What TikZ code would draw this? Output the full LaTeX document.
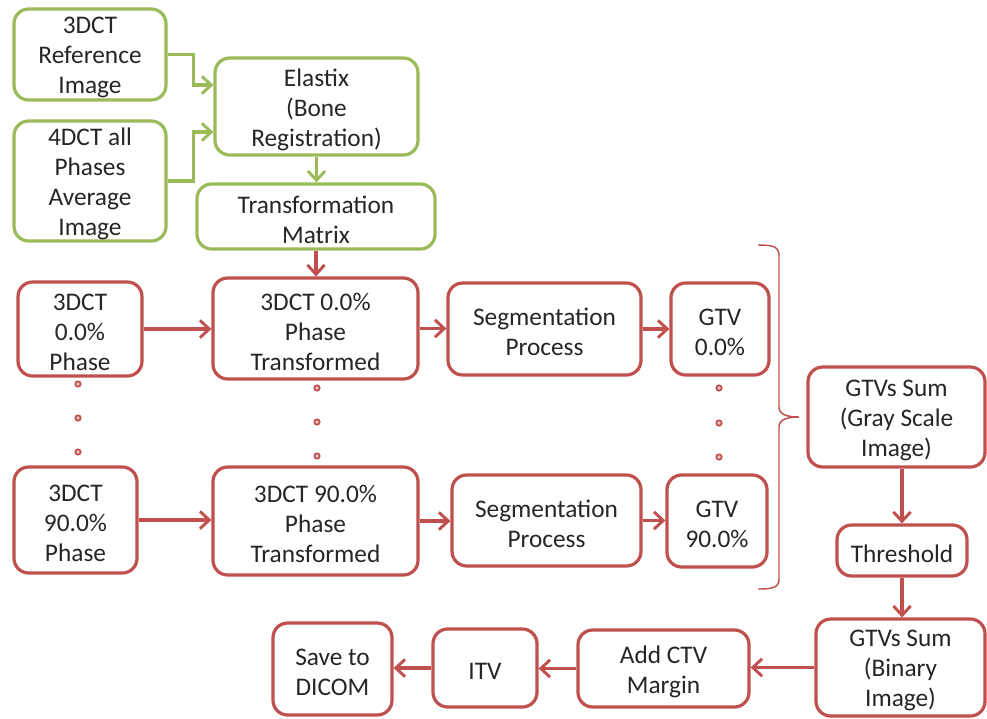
\documentclass[tikz,border=0pt]{standalone}
\usepackage{fontspec}
\setmainfont{Carlito}
\usetikzlibrary{arrows.meta,calc}
\definecolor{grn}{HTML}{9BBB59}
\definecolor{rd}{HTML}{C0504D}
\definecolor{ink}{HTML}{262626}
% box from its corner coordinates (in px): style, name, x1, y1, x2, y2, text
% the frame carries the name; its text sits a little below the centre
\newcommand\pbox[7]{%
  \pgfmathsetmacro\bw{(#5-#3)*0.75}%
  \pgfmathsetmacro\bh{(#6-#4)*0.75}%
  \node[#1, minimum width=\bw pt, minimum height=\bh pt] (#2) at ({(#3+#5)/2},{(#4+#6)/2}) {};
  \node[boxtext] (#2-text) at ({(#3+#5)/2},{(#4+#6)/2+3}) {#7};}
\tikzset{
  basebox/.style={rectangle, rounded corners=11pt, line width=2.4pt, fill=white, inner sep=0pt},
  boxtext/.style={align=center, inner sep=0pt, text=ink,
    font=\fontsize{19pt}{22.5pt}\selectfont},
  gbox/.style={basebox, draw=grn},
  rbox/.style={basebox, draw=rd},
  tipb/.tip={Straight Barb[length=7pt, width=13pt, line width=2.2pt]},
  garrow/.style={draw=grn, line width=2.4pt, -tipb},
  rarrow/.style={draw=rd, line width=2.4pt, -tipb},
  phasedot/.style={circle, draw=rd, line width=1.3pt, fill=rd!35!white, inner sep=0pt, minimum size=4pt},
  bracel/.style={draw=rd, line width=1.1pt}
}
\begin{document}
\begin{tikzpicture}[x=0.75pt, y=-0.75pt]
\useasboundingbox (0,0) rectangle (987,718);

% registration stage
\pbox{gbox}{ref3d}{14}{9}{166}{100}{3DCT\\Reference\\Image}
\pbox{gbox}{avg4d}{14}{121}{166}{241}{4DCT all\\Phases\\Average\\Image}
\pbox{gbox}{elastix}{215}{58}{418}{155}{Elastix\\(Bone\\Registration)}
\pbox{gbox}{tmat}{197}{184}{435}{249}{Transformation\\Matrix}

% phase rows
\pbox{rbox}{ph0}{18}{282}{142}{376}{3DCT\\0.0\%\\Phase}
\pbox{rbox}{tr0}{213}{278}{418}{379}{3DCT 0.0\%\\Phase\\Transformed}
\pbox{rbox}{seg0}{448}{283}{641}{375}{Segmentation\\Process}
\pbox{rbox}{gtv0}{671}{283}{769}{375}{GTV\\0.0\%}

\pbox{rbox}{ph90}{14}{467}{137}{573}{3DCT\\90.0\%\\Phase}
\pbox{rbox}{tr90}{213}{467}{418}{575}{3DCT 90.0\%\\Phase\\Transformed}
\pbox{rbox}{seg90}{452}{475}{641}{566}{Segmentation\\Process}
\pbox{rbox}{gtv90}{667}{475}{767}{567}{GTV\\90.0\%}

% summation and output stage
\pbox{rbox}{gsum}{808}{367}{985}{467}{GTVs Sum\\(Gray Scale\\Image)}
\pbox{rbox}{thr}{837}{525}{967}{576}{Threshold}
\pbox{rbox}{gbin}{816}{619}{985}{716}{GTVs Sum\\(Binary\\Image)}
\pbox{rbox}{ctv}{578}{630}{749}{707}{Add CTV\\Margin}
\pbox{rbox}{itv}{433}{629}{537}{707}{ITV}
\pbox{rbox}{save}{273}{623}{392}{715}{Save to\\DICOM}

% green connectors
\draw[garrow] (ref3d.east) -| ($(elastix.west)+(-20,-21.5)$) -- ($(elastix.west)+(0,-21.5)$);
\draw[garrow] (avg4d.east) -| ($(elastix.west)+(-20,25.5)$) -- ($(elastix.west)+(0,25.5)$);
\draw[garrow] (elastix.south) -- (elastix.south |- tmat.north);

% red connectors
\draw[rarrow] (tmat.south) -- (tmat.south |- tr0.north);
\draw[rarrow] (ph0.east) -- (ph0.east -| tr0.west);
\draw[rarrow] (tr0.east) -- (tr0.east -| seg0.west);
\draw[rarrow] (seg0.east) -- (seg0.east -| gtv0.west);
\draw[rarrow] (ph90.east) -- (ph90.east -| tr90.west);
\draw[rarrow] (tr90.east) -- (tr90.east -| seg90.west);
\draw[rarrow] (seg90.east) -- (seg90.east -| gtv90.west);
\draw[rarrow] (thr.north |- gsum.south) -- (thr.north);
\draw[rarrow] (thr.south) -- (thr.south |- gbin.north);
\draw[rarrow] (gbin.west) -- (gbin.west -| ctv.east);
\draw[rarrow] (ctv.west) -- (ctv.west -| itv.east);
\draw[rarrow] (itv.west) -- (itv.west -| save.east);

% ellipsis dots between the 0.0% and 90.0% rows
\foreach \x/\y [count=\i] in {78/384, 78/418, 78/452, 317/388, 317/422, 317/456, 719/388, 719/423, 719/457}
  \node[phasedot] (dot\i) at (\x,\y) {};

% brace gathering all phase GTVs
\draw[bracel] (758,245) .. controls (774,245) and (779,247) .. (779,256)
  -- (779,407) .. controls (779,414) and (786,417) .. (799,417)
  .. controls (786,417) and (779,420) .. (779,427)
  -- (779,579) .. controls (779,587) and (774,589) .. (758,589);
\end{tikzpicture}
\end{document}
